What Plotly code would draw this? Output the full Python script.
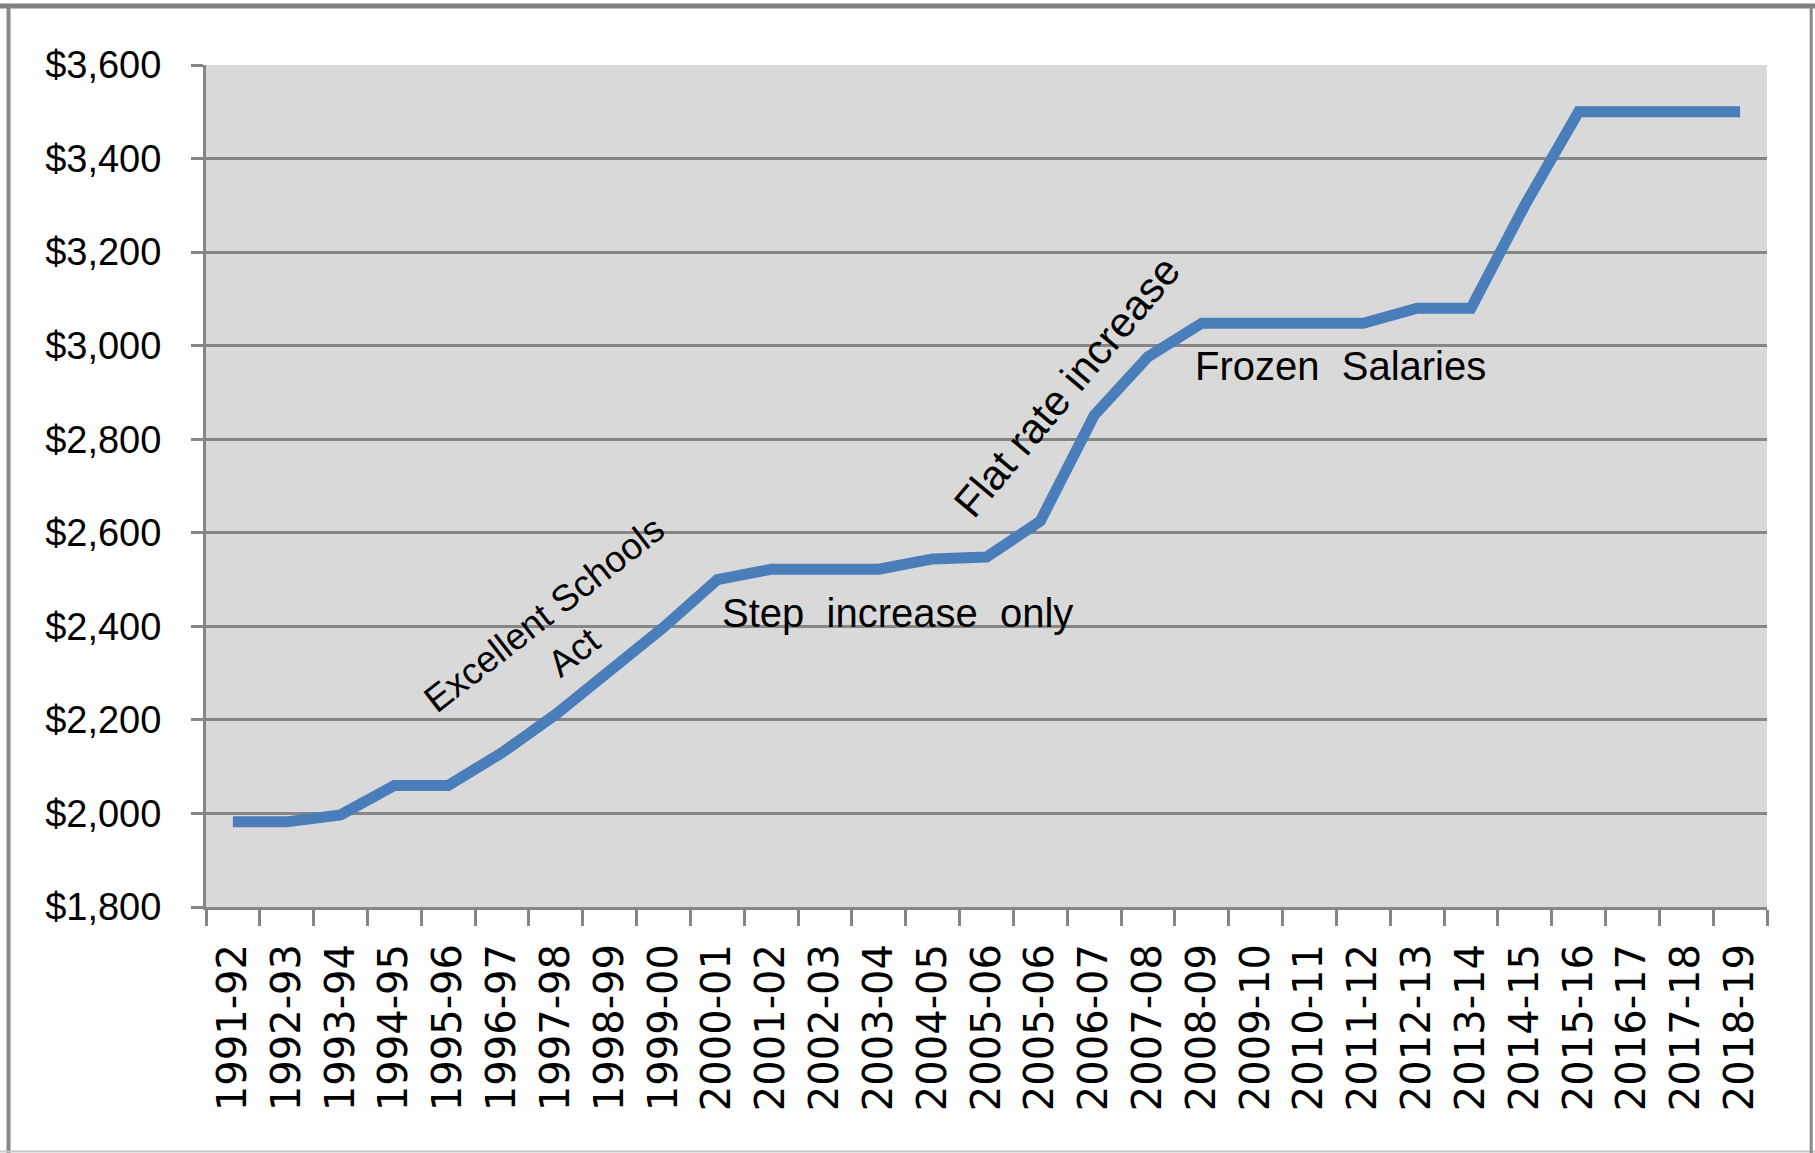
import plotly.graph_objects as go

categories = ["1991-92", "1992-93", "1993-94", "1994-95", "1995-96", "1996-97",
              "1997-98", "1998-99", "1999-00", "2000-01", "2001-02", "2002-03",
              "2003-04", "2004-05", "2005-06", "2005-06", "2006-07", "2007-08",
              "2008-09", "2009-10", "2010-11", "2011-12", "2012-13", "2013-14",
              "2014-15", "2015-16", "2016-17", "2017-18", "2018-19"]
salary = [1982, 1982, 1997, 2060, 2060, 2130, 2212, 2303, 2398, 2500,
          2522, 2522, 2522, 2544, 2548, 2625, 2851, 2976, 3048, 3048,
          3048, 3048, 3080, 3080, 3300, 3500, 3500, 3500, 3500]
y_ticks = [1800, 2000, 2200, 2400, 2600, 2800, 3000, 3200, 3400, 3600]
y_tick_labels = ["$1,800", "$2,000", "$2,200", "$2,400", "$2,600",
                 "$2,800", "$3,000", "$3,200", "$3,400", "$3,600"]

xs = list(range(len(categories)))
bounds = [i - 0.5 for i in range(len(categories) + 1)]

GRID = "#868686"
fig = go.Figure()
fig.add_trace(go.Scatter(x=xs, y=salary, mode="lines",
                         line=dict(color="#4A7EBB", width=11),
                         hoverinfo="skip", showlegend=False))

ann_font = dict(family="Liberation Sans, Arial, sans-serif", size=40, color="#000000")
annotations = [
    dict(text="Step  increase  only", x=12.34, y=2428, textangle=0, size=40),
    dict(text="Frozen  Salaries", x=20.57, y=2956, textangle=0, size=40),
    dict(text="Flat rate increase", x=15.5, y=2912, textangle=-50, size=42),
    dict(text="Excellent Schools<br>Act", x=6.05, y=2385, textangle=-38, size=37),
]
for a in annotations:
    f = dict(ann_font)
    f["size"] = a.pop("size")
    fig.add_annotation(xref="x", yref="y", showarrow=False, font=f, **a)

fig.update_layout(
    width=1815, height=1153,
    margin=dict(l=206, r=48, t=65, b=246),
    paper_bgcolor="white", plot_bgcolor="#D9D9D9",
    showlegend=False,
    shapes=[
        dict(type="line", xref="paper", yref="paper", x0=-0.2, x1=1.2, y0=1.0701, y1=1.0701,
             line=dict(color="#808080", width=5)),
        dict(type="line", xref="paper", yref="paper", x0=-0.1265, x1=-0.1265, y0=-0.3, y1=1.0701,
             line=dict(color="#888888", width=4)),
        dict(type="line", xref="paper", yref="paper", x0=-0.2, x1=1.2, y0=-0.2903, y1=-0.2903,
             line=dict(color="#C8C8C8", width=2)),
        dict(type="line", xref="paper", yref="paper", x0=1.0283, x1=1.0283, y0=-0.3, y1=1.0701,
             line=dict(color="#888888", width=3)),
    ],
)
fig.update_xaxes(
    range=[-0.5, len(categories) - 0.5],
    tickmode="array", tickvals=xs, ticktext=categories,
    tickangle=-90, ticks="", showgrid=False, zeroline=False,
    tickfont=dict(family="DejaVu Sans, Verdana, sans-serif", size=40, color="#000000"),
    ticklabelstandoff=18,
    showline=True, linecolor=GRID, linewidth=3,
    minor=dict(tickmode="array", tickvals=bounds, ticks="outside", ticklen=16,
               tickwidth=3, tickcolor=GRID, showgrid=False),
)
fig.update_yaxes(
    range=[1800, 3600], tickmode="array", tickvals=y_ticks, ticktext=y_tick_labels,
    ticks="outside", ticklen=12, tickwidth=3, tickcolor=GRID,
    showgrid=True, gridcolor=GRID, gridwidth=3, zeroline=False,
    showline=True, linecolor=GRID, linewidth=3,
    tickfont=dict(family="Liberation Sans Narrow, Arial Narrow, Liberation Sans, sans-serif",
                  size=38, color="#000000"),
    ticklabelstandoff=22,
)

fig.write_html("out.html", config={"displayModeBar": False},
               post_script="document.body.style.margin='0px';")
